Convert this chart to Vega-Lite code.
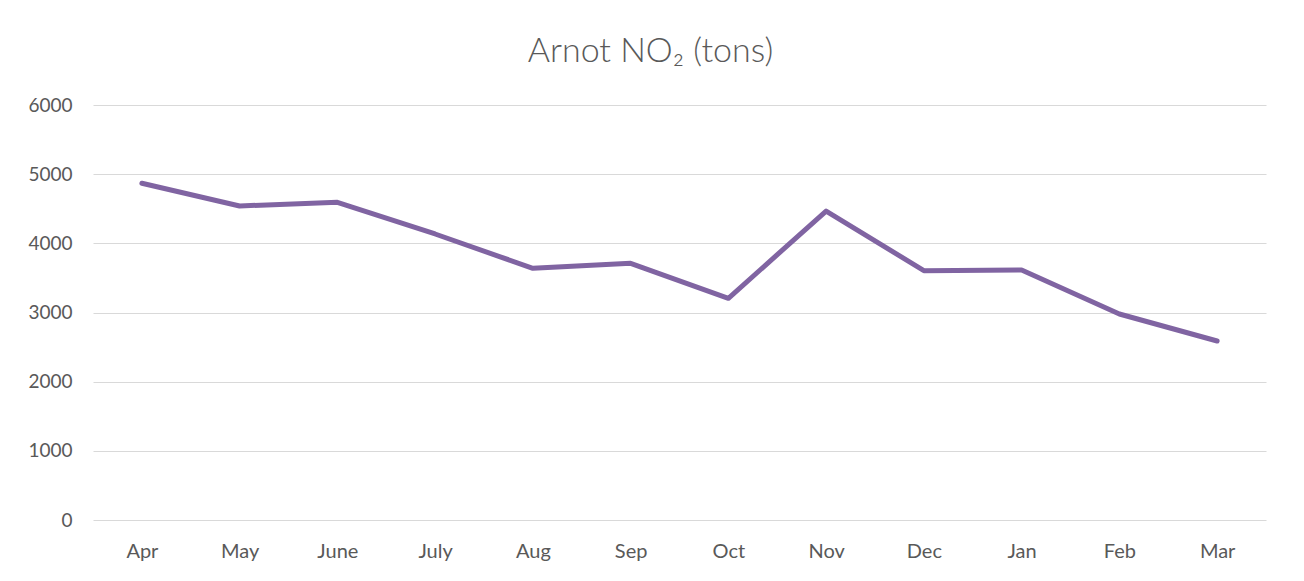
{
  "$schema": "https://vega.github.io/schema/vega-lite/v6.json",
  "autosize": "none",
  "width": 1173,
  "height": 415,
  "padding": {"left": 93, "top": 105, "right": 38, "bottom": 61},
  "background": "white",
  "title": {
    "text": "Arnot NO₂ (tons)",
    "font": "Lato",
    "fontSize": 34,
    "fontWeight": 300,
    "color": "#595959",
    "anchor": "middle",
    "offset": 27,
    "dx": -29
  },
  "data": {
    "values": [
      {"month": "Apr", "value": 4868},
      {"month": "May", "value": 4540},
      {"month": "June", "value": 4593},
      {"month": "July", "value": 4135},
      {"month": "Aug", "value": 3639},
      {"month": "Sep", "value": 3711},
      {"month": "Oct", "value": 3205},
      {"month": "Nov", "value": 4467},
      {"month": "Dec", "value": 3605},
      {"month": "Jan", "value": 3614},
      {"month": "Feb", "value": 2978},
      {"month": "Mar", "value": 2588}
    ]
  },
  "mark": {"type": "line", "color": "#8064A2", "strokeWidth": 5, "strokeCap": "round", "strokeJoin": "round"},
  "encoding": {
    "x": {
      "field": "month",
      "type": "ordinal",
      "sort": null,
      "scale": {"paddingInner": 0, "paddingOuter": 0},
      "axis": {
        "title": null,
        "labelAngle": 0,
        "ticks": false,
        "domain": false,
        "grid": false,
        "labelFont": "Lato",
        "labelFontSize": 20,
        "labelColor": "#595959",
        "labelPadding": 21
      }
    },
    "y": {
      "field": "value",
      "type": "quantitative",
      "scale": {"domain": [0, 6000], "nice": false},
      "axis": {
        "title": null,
        "values": [0, 1000, 2000, 3000, 4000, 5000, 6000],
        "format": "d",
        "ticks": false,
        "domain": false,
        "grid": true,
        "gridColor": "#d9d9d9",
        "gridWidth": 1.2,
        "labelFont": "Lato",
        "labelFontSize": 19,
        "labelColor": "#595959",
        "labelPadding": 21
      }
    }
  },
  "config": {"view": {"stroke": null}}
}
